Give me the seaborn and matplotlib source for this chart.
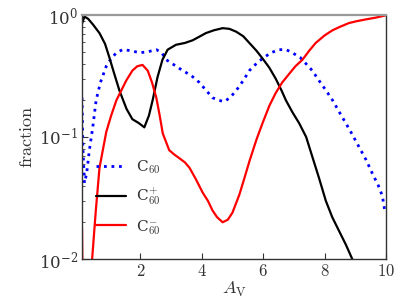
import numpy as np
import pandas as pd
import matplotlib
matplotlib.use("Agg")
import matplotlib.pyplot as plt
import seaborn as sns
from matplotlib.ticker import FuncFormatter, LogLocator, FixedLocator

# ---- data ----
av_neutral = [0.10, 0.13, 0.18, 0.25, 0.34, 0.45, 0.56, 0.70, 0.89, 1.05, 1.22, 1.42, 1.70, 1.97, 2.25, 2.52, 2.70,
              2.84, 3.10, 3.38, 3.65, 3.92, 4.15, 4.35, 4.55, 4.73, 4.92, 5.12, 5.35, 5.55, 5.78, 5.98, 6.25,
              6.52, 6.75, 6.95, 7.20, 7.39, 7.60, 7.82, 8.05, 8.26, 8.48, 8.69, 8.90, 9.12, 9.35, 9.56, 9.75,
              9.88, 9.97]
frac_neutral = [0.21, 0.08, 0.042, 0.05, 0.078, 0.12, 0.20, 0.28, 0.38, 0.44, 0.49, 0.52, 0.51, 0.49, 0.50, 0.52, 0.49,
                0.43, 0.39, 0.35, 0.32, 0.28, 0.24, 0.21, 0.20, 0.195, 0.21, 0.24, 0.29, 0.35, 0.40, 0.44, 0.49,
                0.52, 0.52, 0.49, 0.45, 0.40, 0.35, 0.29, 0.24, 0.20, 0.16, 0.13, 0.105, 0.083, 0.065, 0.05, 0.04,
                0.033, 0.024]

av_cation = [0.10, 0.18, 0.30, 0.45, 0.67, 0.85, 0.99, 1.15, 1.32, 1.55, 1.74, 1.95, 2.13, 2.28, 2.40, 2.56, 2.72,
             2.89, 3.16, 3.45, 3.70, 3.95, 4.13, 4.40, 4.68, 4.90, 5.12, 5.35, 5.55, 5.78, 5.98, 6.20, 6.41,
             6.60, 6.74, 6.95, 7.17, 7.40, 7.60, 7.82, 8.04, 8.25, 8.47, 8.70, 8.90, 9.00]
frac_cation = [0.85, 0.97, 0.93, 0.84, 0.71, 0.58, 0.45, 0.33, 0.24, 0.17, 0.14, 0.13, 0.12, 0.15, 0.20, 0.31, 0.43,
               0.52, 0.57, 0.59, 0.62, 0.67, 0.71, 0.75, 0.78, 0.77, 0.73, 0.67, 0.59, 0.51, 0.44, 0.37, 0.30,
               0.24, 0.20, 0.16, 0.13, 0.10, 0.069, 0.046, 0.030, 0.022, 0.017, 0.013, 0.0100, 0.0088]

av_anion = [0.10, 0.12, 0.30, 0.43, 0.55, 0.67, 0.89, 1.05, 1.22, 1.54, 1.74, 1.90, 2.07, 2.24, 2.38, 2.52, 2.63,
            2.73, 2.94, 3.10, 3.27, 3.45, 3.60, 3.81, 4.03, 4.20, 4.35, 4.50, 4.68, 4.85, 5.00, 5.23, 5.40,
            5.55, 5.78, 5.98, 6.20, 6.41, 6.62, 6.85, 7.05, 7.28, 7.50, 7.71, 8.00, 8.26, 8.50, 8.80, 9.05,
            9.34, 9.65, 9.97]
frac_anion = [0.018, 0.006, 0.004, 0.0100, 0.025, 0.056, 0.11, 0.15, 0.20, 0.29, 0.35, 0.38, 0.39, 0.35, 0.28, 0.21, 0.15,
              0.107, 0.078, 0.072, 0.067, 0.062, 0.056, 0.045, 0.035, 0.030, 0.025, 0.022, 0.020, 0.021, 0.024, 0.034, 0.047,
              0.063, 0.095, 0.13, 0.18, 0.23, 0.28, 0.33, 0.38, 0.43, 0.51, 0.59, 0.68, 0.75, 0.80, 0.86, 0.89,
              0.92, 0.95, 0.99]

labels = [r"C$_{60}$", r"C$_{60}^{+}$", r"C$_{60}^{-}$"]
colors = ["#0000ff", "#000000", "#ff0000"]
xticks = [2, 4, 6, 8, 10]

# ---- plot ----
sns.set_style("ticks")
plt.rcParams["mathtext.fontset"] = "cm"
plt.rcParams["font.family"] = ["DejaVu Serif"]

fig = plt.figure(figsize=(4.07, 3.05), dpi=100)
ax = fig.add_axes([82 / 407, 46 / 305, 304 / 407, 244 / 305])

series = [(av_neutral, frac_neutral), (av_cation, frac_cation), (av_anion, frac_anion)]
styles = [dict(linestyle=(0, (1, 1.7)), linewidth=2.0),
          dict(linestyle="-", linewidth=1.6),
          dict(linestyle="-", linewidth=1.6)]
for (xs, ys), lab, col, st in zip(series, labels, colors, styles):
    df = pd.DataFrame({"AV": xs, "frac": ys})
    sns.lineplot(data=df, x="AV", y="frac", ax=ax, color=col, label=lab, sort=False,
                 estimator=None, **st)

ax.set_yscale("log")
ax.set_xlim(0.1, 10)
ax.set_ylim(0.01, 1)
ax.xaxis.set_major_locator(FixedLocator(xticks))
ax.xaxis.set_major_formatter(FuncFormatter(lambda v, p: r"$%d$" % int(round(v))))
ax.yaxis.set_major_locator(LogLocator(base=10, numticks=5))
ax.yaxis.set_minor_locator(LogLocator(base=10, subs=np.arange(2, 10), numticks=10))

txtc = "#333333"
ax.tick_params(axis="both", which="both", direction="in", colors="#333333", labelcolor=txtc,
               labelsize=12, top=False, right=False)
ax.tick_params(axis="both", which="major", length=4, width=0.8, pad=3)
ax.tick_params(axis="y", which="minor", length=2.5, width=0.6)
ax.tick_params(axis="x", which="minor", bottom=False)

for s in ["left", "bottom", "right"]:
    ax.spines[s].set_color("#333333")
    ax.spines[s].set_linewidth(1.0)
ax.spines["top"].set_color("#999999")
ax.spines["top"].set_linewidth(1.6)

ax.set_xlabel(r"$A_{\rm V}$", fontsize=13, color=txtc, labelpad=0)
ax.set_ylabel(r"$\mathrm{fraction}$", fontsize=13, color=txtc, labelpad=2)

leg = ax.legend(loc="lower left", bbox_to_anchor=(0.0, 0.035), frameon=False, fontsize=11,
                handlelength=2.0, handletextpad=0.65, labelspacing=0.68, labelcolor=txtc)

fig.savefig("out.png", dpi=100)
